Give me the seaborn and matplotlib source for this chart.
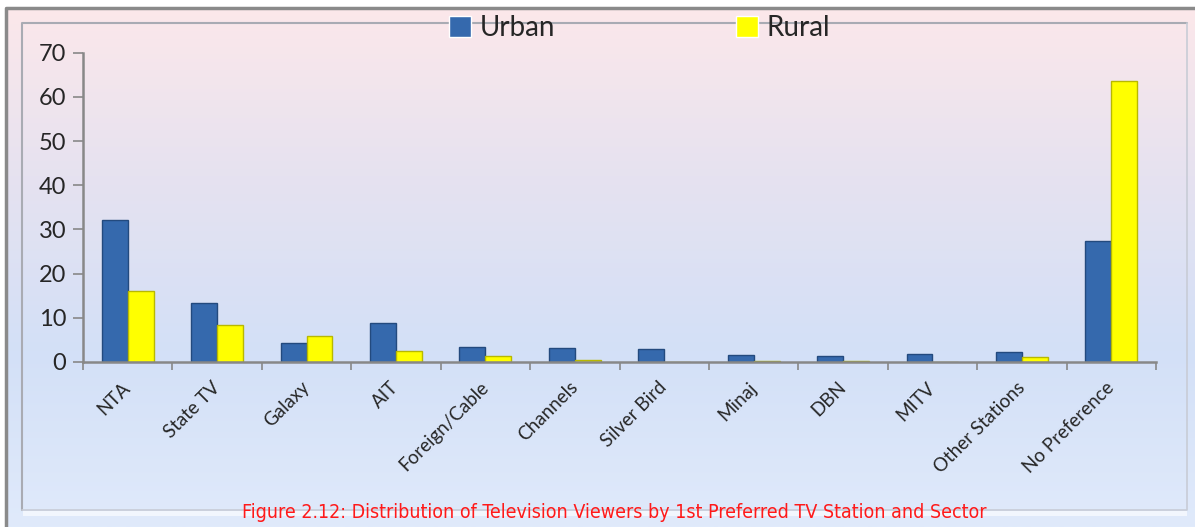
import matplotlib
matplotlib.use("Agg")
import matplotlib.pyplot as plt
import matplotlib.transforms as mtransforms
from matplotlib.patches import Rectangle
from matplotlib.colors import LinearSegmentedColormap
import numpy as np
import pandas as pd
import seaborn as sns

# values
stations = ["NTA", "State TV", "Galaxy", "AIT", "Foreign/Cable", "Channels",
            "Silver Bird", "Minaj", "DBN", "MITV", "Other Stations", "No Preference"]
urban = [32.2, 13.3, 4.3, 8.8, 3.4, 3.2, 2.9, 1.6, 1.3, 1.8, 2.3, 27.3]
rural = [16.1, 8.4, 5.9, 2.6, 1.4, 0.5, 0.0, 0.3, 0.3, 0.0, 1.1, 63.5]
yticks = [0, 10, 20, 30, 40, 50, 60, 70]

df = pd.DataFrame({
    "station": stations * 2,
    "value": urban + rural,
    "sector": ["Urban"] * len(stations) + ["Rural"] * len(stations),
})

sns.set_style("white")
plt.rcParams["font.family"] = ["Lato", "DejaVu Sans"]

fig = plt.figure(figsize=(11.95, 5.27), dpi=100)
W, H = 1195, 527

# background gradient (pink top -> light blue bottom)
bg = fig.add_axes([0, 0, 1, 1], zorder=0)
cmap = LinearSegmentedColormap.from_list("bg", ["#fde8ea", "#e6e2f0", "#d3e0f7", "#e0eafb"])
grad = np.linspace(0, 1, 256).reshape(-1, 1)
bg.imshow(grad, aspect="auto", cmap=cmap, extent=[0, 1, 0, 1], origin="upper")
bg.set_xlim(0, 1)
bg.set_ylim(0, 1)
bg.axis("off")
# white strips top and left, outside the gray outer frame
bg.add_patch(Rectangle((0, 1 - 7 / H), 1, 7 / H, color="white", lw=0))
bg.add_patch(Rectangle((0, 0), 5 / W, 1, color="white", lw=0))
bg.plot([6 / W, 6 / W, 1], [0, 1 - 8 / H, 1 - 8 / H], color="#8a8a8a", lw=2.5)
# inner bevelled frame
bg.plot([22 / W, 22 / W, 1187 / W], [17 / H, 1 - 23 / H, 1 - 23 / H], color="#a9abb3", lw=1.5)
bg.plot([22 / W, 1187 / W, 1187 / W], [17 / H, 17 / H, 1 - 23 / H], color="#c8ccd6", lw=1.2)
bg.add_patch(Rectangle((23 / W, 11 / H), 1164 / W, 5 / H, color="#f2f6fd", lw=0))

ax = fig.add_axes([83 / W, 1 - 362 / H, (1156 - 83) / W, (362 - 52.7) / H], zorder=1)
ax.patch.set_alpha(0)

sns.barplot(data=df, x="station", y="value", hue="sector",
            palette={"Urban": "#3569ad", "Rural": "#ffff00"},
            width=0.58, saturation=1, ax=ax, legend=True)
for bar, c in zip(ax.patches, ["#234a7e"] * 12 + ["#b8b800"] * 12):
    bar.set_edgecolor(c)
    bar.set_linewidth(1)

ax.set_ylim(0, 70)
ax.set_xlim(-0.5, 11.5)
ax.set_yticks(yticks)
ax.set_yticklabels([str(t) for t in yticks], fontsize=17)
ax.set_xticks(range(len(stations)))
ax.set_xticklabels(stations, rotation=45, ha="right", rotation_mode="anchor", fontsize=13.5)
ax.set_xticks(np.arange(-0.5, 12, 1), minor=True)
ax.tick_params(axis="x", which="major", bottom=True, length=0, pad=12)
ax.tick_params(axis="x", which="minor", bottom=True, length=6, width=1.2,
               color="#888888", direction="out")
ax.tick_params(axis="y", left=True, length=7, width=1.2, color="#888888",
               direction="out", pad=5)
shift = mtransforms.ScaledTranslation(-6 / 100, 0, fig.dpi_scale_trans)
for lab in ax.get_xticklabels():
    lab.set_transform(lab.get_transform() + shift)
ax.set_xlabel("")
ax.set_ylabel("")
for s in ["top", "right"]:
    ax.spines[s].set_visible(False)
for s in ["left", "bottom"]:
    ax.spines[s].set_color("#888888")
    ax.spines[s].set_linewidth(1.8)

ax.legend(loc="center", bbox_to_anchor=(0.535, 0.947), bbox_transform=fig.transFigure,
          ncol=2, frameon=False, fontsize=20, handlelength=0.8, handleheight=0.8,
          handletextpad=0.3, columnspacing=6.5, borderaxespad=0)

fig.text(0.514, 0.028, "Figure 2.12: Distribution of Television Viewers by 1st Preferred TV Station and Sector",
         color="#ff1a1a", fontsize=14, ha="center", va="center",
         family=["DejaVu Sans"], fontstretch="condensed")

fig.savefig("out.png", dpi=100)
